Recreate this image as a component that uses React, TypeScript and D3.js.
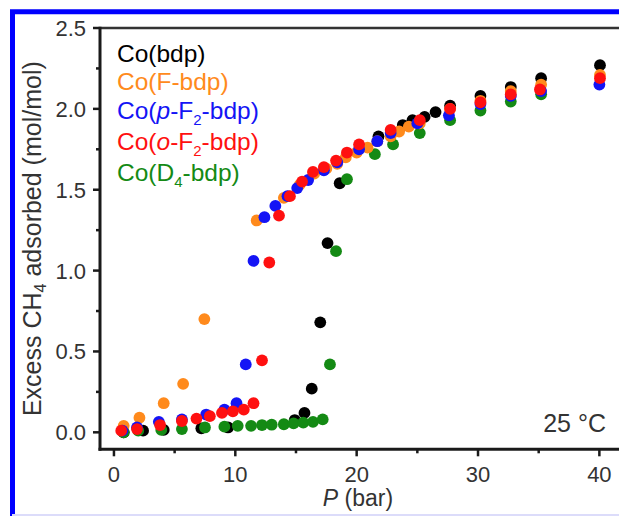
import React from "react";
import * as d3 from "d3";

const W = 619;
const H = 516;

// Co(bdp)
const bdpP = [0.8, 2.4, 4.1, 7.2, 9.4, 14.9, 15.7, 16.3, 17.0, 17.6, 18.6, 21.8, 23.8, 24.6, 25.6, 26.5, 27.7, 30.2, 32.7, 35.2, 40.05];
const bdpV = [0.0, 0.01, 0.015, 0.025, 0.03, 0.076, 0.12, 0.27, 0.68, 1.17, 1.54, 1.83, 1.9, 1.93, 1.95, 1.98, 2.02, 2.08, 2.135, 2.19, 2.27];
// Co(F-bdp)
const fP = [0.8, 2.1, 4.1, 5.7, 7.45, 11.76, 14.0, 15.3, 16.5, 17.5, 18.4, 19.1, 20.0, 20.9, 21.7, 22.8, 23.5, 24.3, 25.2, 27.7, 30.2, 32.7, 35.2, 40.05];
const fV = [0.04, 0.09, 0.18, 0.3, 0.7, 1.31, 1.45, 1.53, 1.6, 1.63, 1.66, 1.7, 1.73, 1.76, 1.8, 1.83, 1.86, 1.89, 1.91, 2.0, 2.05, 2.11, 2.15, 2.21];
// Co(p-F2-bdp)
const pP = [0.7, 1.9, 3.7, 5.6, 7.6, 9.1, 10.1, 10.86, 11.5, 12.4, 13.3, 14.3, 15.1, 16.0, 17.3, 18.4, 20.2, 21.7, 22.8, 25.0, 27.6, 30.2, 32.7, 35.2, 40.0];
const pV = [0.01, 0.03, 0.065, 0.08, 0.11, 0.14, 0.18, 0.42, 1.06, 1.33, 1.4, 1.46, 1.51, 1.56, 1.62, 1.67, 1.75, 1.8, 1.85, 1.91, 1.96, 2.03, 2.08, 2.11, 2.15];
// Co(o-F2-bdp)
const oP = [0.6, 1.9, 3.8, 5.6, 6.8, 7.9, 8.9, 9.8, 10.7, 11.5, 12.2, 12.8, 13.6, 14.5, 15.5, 16.4, 17.3, 18.3, 19.2, 20.2, 22.8, 25.2, 27.7, 30.2, 32.7, 35.1, 40.05];
const oV = [0.01, 0.02, 0.045, 0.07, 0.085, 0.1, 0.12, 0.13, 0.14, 0.18, 0.445, 1.05, 1.34, 1.46, 1.55, 1.61, 1.64, 1.68, 1.73, 1.78, 1.87, 1.93, 2.0, 2.04, 2.09, 2.12, 2.19];
// Co(D4-bdp)
const dP = [0.8, 2.0, 3.9, 5.6, 7.5, 9.1, 10.2, 11.3, 12.2, 13.0, 14.0, 14.8, 15.6, 16.4, 17.2, 17.8, 18.3, 19.2, 21.5, 23.0, 25.2, 27.7, 30.2, 32.7, 35.2];
const dV = [0.0, 0.01, 0.015, 0.02, 0.03, 0.035, 0.04, 0.04, 0.045, 0.047, 0.05, 0.055, 0.06, 0.065, 0.08, 0.42, 1.12, 1.565, 1.72, 1.78, 1.85, 1.93, 1.99, 2.045, 2.09];

const xTicks = [0, 10, 20, 30, 40];
const xMinor = [5, 15, 25, 35];
const yTicks = [0, 0.5, 1.0, 1.5, 2.0, 2.5];
const yMinor = [0.25, 0.75, 1.25, 1.75, 2.25];

const C_BLACK = "#000000";
const C_ORANGE = "#FF8A1C";
const C_BLUE = "#1414F5";
const C_RED = "#FF1010";
const C_GREEN = "#148A14";

// drawing order: back to front
const series = [
  { P: bdpP, V: bdpV, color: C_BLACK },
  { P: dP, V: dV, color: C_GREEN },
  { P: fP, V: fV, color: C_ORANGE },
  { P: pP, V: pV, color: C_BLUE },
  { P: oP, V: oV, color: C_RED },
];

const L = 100, R = 620, T = 28, B = 449.3;
const FONT = "'Liberation Sans', Arial, Helvetica, sans-serif";

export default function App() {
  const x = d3.scaleLinear().domain([-1.15, 41.7]).range([L, R]);
  const y = d3.scaleLinear().domain([-0.105, 2.5]).range([B, T]);
  const fmt = d3.format(".1f");

  return (
    <svg width={W} height={H} viewBox={`0 0 ${W} ${H}`}
      style={{ position: "absolute", left: 0, top: 0, background: "#fff" }}
      fontFamily={FONT}>
      <rect x={0} y={0} width={W} height={H} fill="#fff" />
      {/* blue frame */}
      <path d={`M12.5,${H} V11.8 H${W}`} fill="none" stroke="#0000FF" strokeWidth={5} />
      <line x1={12} x2={W} y1={H - 1} y2={H - 1} stroke="#DCDCFA" strokeWidth={2} />

      {/* points */}
      {series.map((s, si) => (
        <g key={si}>
          {s.P.map((p, i) => (
            <circle key={i} cx={x(p)} cy={y(s.V[i])} r={5.9} fill={s.color} />
          ))}
        </g>
      ))}

      {/* frame */}
      <line x1={L} x2={R} y1={T} y2={T} stroke="#333" strokeWidth={2.5} />
      <line x1={L} x2={L} y1={T - 1.2} y2={B + 1.5} stroke="#1a1a1a" strokeWidth={3} />
      <line x1={L - 1.5} x2={R} y1={B} y2={B} stroke="#1a1a1a" strokeWidth={3} />

      {/* y ticks */}
      {yTicks.map((t) => (
        <g key={"y" + t}>
          <line x1={L - 7} x2={L} y1={y(t)} y2={y(t)} stroke="#1a1a1a" strokeWidth={2.5} />
          <text x={86} y={y(t)} dy="0.36em" textAnchor="end" fontSize={22} fill="#333">{fmt(t)}</text>
        </g>
      ))}
      {yMinor.map((t) => (
        <line key={"ym" + t} x1={L - 4} x2={L} y1={y(t)} y2={y(t)} stroke="#1a1a1a" strokeWidth={2.5} />
      ))}

      {/* x ticks */}
      {xTicks.map((t) => (
        <g key={"x" + t}>
          <line x1={x(t)} x2={x(t)} y1={B} y2={B + 7} stroke="#1a1a1a" strokeWidth={2.5} />
          <text x={x(t)} y={481.5} textAnchor="middle" fontSize={22} fill="#333">{t}</text>
        </g>
      ))}
      {xMinor.map((t) => (
        <line key={"xm" + t} x1={x(t)} x2={x(t)} y1={B} y2={B + 4} stroke="#1a1a1a" strokeWidth={2.5} />
      ))}

      {/* axis labels */}
      <text x={358} y={506} textAnchor="middle" fontSize={23} fill="#333">
        <tspan fontStyle="italic">P</tspan> (bar)
      </text>
      <text transform={`translate(41, ${(T + B) / 2}) rotate(-90)`} textAnchor="middle" fontSize={25} fill="#333">
        Excess CH<tspan fontSize={16} dy={5}>4</tspan><tspan dy={-5}> adsorbed (mol/mol)</tspan>
      </text>

      {/* legend */}
      <g fontSize={24.5}>
        <text x={117} y={62} fill={C_BLACK}>Co(bdp)</text>
        <text x={117} y={90} fill={C_ORANGE}>Co(F-bdp)</text>
        <text x={117} y={119} fill={C_BLUE}>
          Co(<tspan fontStyle="italic">p</tspan>-F<tspan fontSize={15} dy={6}>2</tspan><tspan dy={-6}>-bdp)</tspan>
        </text>
        <text x={117} y={150} fill={C_RED}>
          Co(<tspan fontStyle="italic">o</tspan>-F<tspan fontSize={15} dy={6}>2</tspan><tspan dy={-6}>-bdp)</tspan>
        </text>
        <text x={117} y={181} fill={C_GREEN}>
          Co(D<tspan fontSize={15} dy={6}>4</tspan><tspan dy={-6}>-bdp)</tspan>
        </text>
      </g>

      <text x={606} y={432} textAnchor="end" fontSize={25} fill="#333">25 °C</text>
    </svg>
  );
}
